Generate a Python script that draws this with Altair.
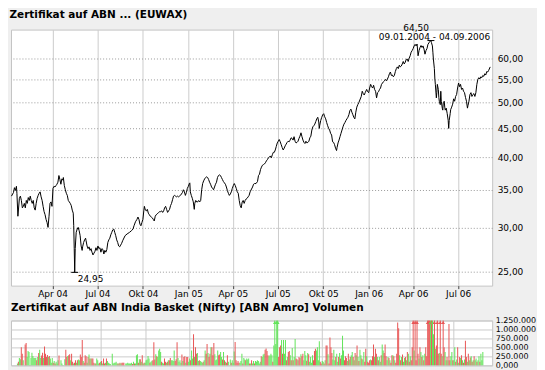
import altair as alt
import pandas as pd

TITLE_MAIN = "Zertifikat auf ABN ... (EUWAX)"
TITLE_VOL = "Zertifikat auf ABN India Basket (Nifty) [ABN Amro] Volumen"

# (days after 2004-01-01, closing price)
price_points = [
    (8, 34.1), (12, 34.6), (14, 35.3), (16, 34.9), (18, 35.5), (19, 34.5), (21, 31.4), (24, 33.8),
    (26, 34.1), (28, 33.5), (30, 32.5), (32, 32.7), (34, 33.1), (36, 32.5), (38, 33.5), (40, 33.1),
    (42, 33.9), (44, 33.5), (46, 34.1), (48, 33.5), (50, 33.1), (52, 33.5), (54, 32.5), (56, 32.2),
    (58, 33.1), (60, 33.8), (62, 34.2), (64, 34.5), (66, 34.7), (68, 34.0), (70, 33.5), (72, 32.7),
    (74, 32.0), (76, 31.6), (78, 31.0), (80, 30.6), (82, 30.0), (84, 31.4), (86, 33.1), (88, 33.3),
    (90, 32.7), (92, 35.2), (94, 35.5), (96, 35.4), (98, 35.6), (100, 35.8), (102, 36.1), (104, 37.1),
    (106, 36.5), (108, 35.8), (110, 36.6), (112, 36.4), (113, 36.8), (115, 35.6), (117, 35.0), (119, 34.5),
    (121, 34.2), (123, 33.5), (125, 33.3), (127, 33.1), (129, 32.8), (131, 32.2), (133, 31.8), (134, 30.2),
    (135, 27.5), (136, 24.95), (137, 27.5), (139, 29.4), (141, 29.8), (143, 30.0), (145, 29.6), (147, 29.0),
    (149, 27.8), (151, 27.3), (152, 27.7), (154, 28.2), (156, 28.5), (158, 28.7), (159, 28.4), (161, 27.8),
    (163, 27.5), (165, 27.7), (167, 27.3), (169, 27.5), (171, 27.1), (173, 26.8), (175, 27.0), (177, 27.2),
    (179, 27.6), (181, 27.3), (183, 27.8), (185, 27.5), (187, 27.6), (189, 27.1), (191, 27.5), (193, 27.4),
    (195, 26.9), (197, 27.3), (199, 27.1), (201, 27.4), (203, 28.2), (205, 28.5), (207, 28.7), (209, 29.1),
    (211, 29.4), (213, 29.7), (215, 29.8), (217, 29.4), (219, 29.0), (221, 28.5), (223, 28.2), (225, 27.8),
    (227, 27.7), (229, 27.9), (231, 28.1), (233, 28.4), (238, 29.0), (242, 29.2), (247, 29.4), (251, 29.6),
    (254, 29.8), (256, 30.2), (259, 30.7), (262, 31.0), (264, 31.3), (266, 31.0), (268, 30.4), (270, 30.2),
    (272, 30.6), (274, 31.0), (276, 32.2), (277, 32.7), (279, 32.2), (281, 32.1), (283, 32.3), (285, 31.8),
    (287, 31.6), (289, 31.4), (291, 31.3), (293, 31.2), (295, 31.0), (297, 30.8), (299, 31.4), (301, 31.6),
    (303, 31.7), (306, 31.9), (308, 32.0), (310, 32.0), (312, 32.1), (314, 31.9), (316, 32.1), (318, 32.5),
    (320, 32.7), (322, 32.3), (324, 31.9), (326, 32.1), (328, 32.3), (330, 32.8), (332, 33.1), (334, 33.6),
    (336, 34.1), (338, 34.2), (340, 34.1), (342, 34.0), (344, 34.1), (346, 34.0), (348, 34.1), (350, 34.2),
    (352, 34.4), (354, 34.6), (356, 35.0), (358, 34.7), (360, 34.2), (362, 34.6), (364, 35.2), (366, 35.5),
    (368, 35.9), (369, 36.0), (370, 34.7), (372, 34.2), (374, 33.8), (376, 33.3), (378, 32.3), (379, 33.1),
    (381, 33.5), (383, 33.3), (385, 33.3), (387, 33.5), (389, 33.3), (391, 33.5), (393, 35.0), (395, 35.9),
    (397, 36.3), (399, 36.6), (401, 36.8), (403, 36.9), (405, 36.8), (407, 36.5), (409, 36.1), (411, 35.8),
    (413, 35.4), (415, 35.2), (417, 35.0), (419, 35.4), (421, 35.8), (423, 36.1), (425, 36.8), (427, 37.1),
    (429, 37.2), (431, 37.1), (433, 36.8), (435, 36.5), (437, 36.2), (439, 36.0), (441, 35.8), (443, 35.4),
    (445, 34.9), (447, 34.5), (449, 34.2), (451, 34.4), (453, 34.7), (455, 35.2), (457, 35.6), (459, 35.9),
    (461, 35.6), (463, 35.2), (465, 34.7), (467, 34.5), (469, 33.5), (471, 32.8), (473, 32.5), (475, 33.3),
    (477, 33.5), (479, 33.1), (481, 33.5), (483, 33.7), (485, 33.8), (487, 34.0), (489, 34.2), (491, 34.7),
    (496, 35.4), (498, 35.8), (500, 35.9), (503, 35.9), (506, 36.2), (508, 37.1), (510, 37.3), (512, 38.0),
    (514, 38.4), (516, 38.7), (518, 38.8), (520, 38.9), (522, 39.1), (524, 39.4), (526, 39.6), (528, 39.9),
    (530, 40.0), (532, 40.2), (534, 39.9), (536, 40.4), (538, 40.8), (540, 40.8), (542, 41.2), (544, 41.8),
    (546, 42.4), (548, 42.7), (550, 43.0), (552, 42.6), (554, 42.1), (556, 41.6), (558, 41.2), (560, 41.5),
    (562, 41.9), (564, 42.2), (566, 42.5), (568, 42.7), (570, 42.6), (572, 42.9), (574, 43.3), (576, 43.2),
    (578, 42.9), (580, 43.5), (582, 42.7), (584, 42.4), (586, 42.5), (588, 42.7), (590, 43.2), (592, 43.6),
    (594, 44.2), (596, 43.5), (598, 42.9), (600, 42.5), (602, 42.3), (604, 42.7), (606, 42.4), (608, 42.5),
    (610, 42.7), (612, 43.3), (614, 43.6), (616, 44.7), (618, 45.3), (620, 45.5), (622, 45.8), (624, 46.3),
    (626, 46.8), (628, 47.1), (630, 46.2), (631, 45.0), (632, 45.6), (634, 46.5), (636, 47.1), (638, 47.6),
    (640, 47.8), (642, 47.2), (644, 46.8), (646, 46.1), (648, 45.5), (650, 45.0), (652, 44.7), (654, 44.1),
    (656, 43.8), (658, 42.6), (660, 42.5), (662, 42.1), (664, 41.5), (666, 41.1), (667, 41.6), (669, 42.4),
    (671, 42.9), (673, 43.5), (675, 44.1), (677, 44.7), (679, 45.3), (681, 45.8), (683, 46.1), (685, 46.5),
    (687, 46.8), (689, 47.1), (691, 47.6), (693, 48.4), (695, 48.7), (697, 48.1), (699, 47.6), (701, 47.1),
    (703, 46.8), (705, 48.1), (707, 49.1), (709, 49.6), (711, 50.0), (716, 51.3), (718, 52.4), (720, 51.9),
    (722, 51.6), (724, 52.1), (727, 52.8), (729, 52.3), (731, 52.1), (733, 53.1), (735, 53.9), (737, 53.4),
    (739, 53.1), (741, 53.7), (743, 52.8), (745, 52.4), (747, 51.0), (749, 52.1), (751, 52.3), (753, 52.8),
    (755, 53.1), (757, 53.9), (759, 54.2), (761, 54.5), (763, 54.7), (765, 55.0), (767, 54.7), (769, 55.1),
    (771, 55.6), (773, 56.3), (775, 56.7), (777, 55.9), (779, 56.0), (781, 55.6), (783, 55.9), (785, 56.8),
    (787, 57.5), (789, 57.9), (791, 57.5), (793, 58.3), (795, 57.9), (797, 58.1), (799, 58.6), (801, 59.2),
    (803, 58.6), (805, 59.0), (807, 59.7), (809, 59.8), (811, 59.2), (813, 60.0), (815, 60.6), (817, 61.5),
    (819, 61.9), (821, 62.4), (823, 63.1), (825, 63.5), (827, 63.1), (829, 63.6), (831, 60.6), (833, 61.9),
    (835, 62.7), (837, 63.2), (839, 62.7), (841, 63.1), (843, 62.3), (845, 61.0), (847, 61.9), (849, 62.4),
    (851, 63.5), (853, 63.9), (855, 64.3), (857, 64.5), (858, 64.0), (860, 63.1), (861, 61.5), (862, 59.8),
    (864, 57.5), (865, 55.1), (866, 53.9), (868, 51.0), (869, 52.1), (870, 53.9), (872, 52.8), (873, 51.1),
    (874, 50.3), (876, 49.6), (877, 52.4), (878, 50.3), (880, 48.9), (881, 48.5), (882, 50.0), (884, 50.3),
    (885, 49.1), (886, 48.5), (888, 48.9), (890, 47.8), (892, 46.5), (893, 45.0), (894, 46.5), (896, 47.8),
    (897, 48.6), (899, 49.1), (901, 49.7), (903, 50.8), (905, 50.3), (907, 51.3), (909, 51.7), (911, 53.1),
    (913, 54.2), (915, 53.4), (917, 53.9), (919, 52.8), (921, 53.1), (923, 52.4), (925, 52.1), (927, 51.1),
    (929, 50.3), (931, 48.9), (932, 49.4), (934, 50.3), (936, 51.7), (938, 52.1), (940, 51.3), (942, 51.7),
    (944, 51.9), (946, 51.3), (948, 52.1), (950, 53.9), (952, 55.0), (954, 55.4), (956, 55.1), (958, 55.6),
    (960, 55.4), (962, 55.9), (964, 55.7), (966, 56.3), (968, 56.0), (970, 56.8), (972, 56.7), (974, 57.1),
    (977, 57.9),
]

# volume in thousands, one bar every second day starting 2004-01-11
vol_start = "2004-01-11"
vol_k = [
    54, 100, 208, 172, 507, 326, 145, 0, 580, 625, 235, 399,
    371, 9, 208, 353, 263, 208, 208, 208, 145, 235,
    344, 435, 208, 272, 353, 208, 525, 326, 235, 290,
    235, 263, 190, 72, 208, 72, 118, 54, 100, 54,
    145, 272, 0, 145, 54, 9, 0, 172, 435, 235,
    263, 281, 308, 145, 326, 100, 54, 72, 145, 72,
    145, 163, 145, 299, 235, 706, 118, 72, 281, 254,
    72, 235, 299, 190, 190, 190, 190, 72, 54, 54,
    190, 145, 54, 72, 100, 118, 54, 190, 54, 72,
    190, 118, 72, 54, 36, 0, 326, 54, 72, 72,
    100, 54, 54, 54, 72, 54, 72, 72, 72, 0,
    54, 54, 72, 54, 54, 54, 72, 36, 100, 54,
    54, 281, 308, 72, 172, 172, 100, 281, 54, 72,
    72, 145, 163, 263, 190, 72, 100, 127, 145, 643,
    163, 308, 254, 235, 417, 462, 371, 100, 72, 54,
    190, 100, 72, 100, 145, 145, 208, 145, 145, 118,
    417, 118, 172, 643, 208, 100, 145, 72, 299, 118,
    235, 254, 72, 235, 235, 100, 190, 145, 417, 190,
    869, 235, 507, 326, 344, 118, 145, 118, 100, 72,
    100, 145, 417, 326, 598, 344, 235, 326, 507, 507,
    281, 625, 308, 145, 163, 417, 281, 299, 371, 235,
    163, 371, 145, 100, 72, 281, 100, 0, 163, 72,
    145, 72, 389, 652, 145, 72, 118, 72, 72, 118,
    326, 54, 208, 163, 145, 190, 163, 190, 54, 54,
    145, 54, 118, 54, 118, 100, 145, 118, 54, 100,
    254, 235, 299, 326, 435, 471, 399, 281, 254, 281, 326,
    281, 100, 552, 1400, 598, 1400, 1400, 235, 507,
    552, 706, 326, 706, 326, 706, 145, 235, 371, 399,
    281, 145, 480, 145, 235, 733, 190, 172, 145, 235,
    208, 308, 254, 326, 145, 399, 281, 127, 344, 308,
    100, 235, 72, 281, 145, 399, 462, 417, 507, 145,
    670, 100, 54, 118, 100, 54, 145, 552, 552, 308,
    54, 779, 507, 344, 163, 435, 145, 235, 326, 100,
    235, 344, 190, 281, 824, 417, 145, 254, 208, 118,
    326, 163, 235, 281, 371, 235, 145, 344, 281, 552,
    235, 118, 435, 281, 190, 163, 371, 100, 462, 254,
    100, 72, 145, 163, 145, 254, 580, 235, 462, 326,
    235, 145, 235, 100, 281, 580, 417, 344, 580, 254,
    145, 235, 208, 145, 72, 281, 281, 254, 145, 72,
    326, 1196, 1033, 281, 145, 235, 299, 100, 208, 235,
    145, 371, 326, 100, 254, 145, 507, 1400, 417, 1400,
    145, 1400, 326, 190, 507, 371, 235, 281, 145, 326,
    507, 254, 1400, 1400, 1400, 1400, 1400, 1400, 869, 1400,
    462, 552, 1400, 326, 344, 1400, 326, 254, 1400, 507,
    371, 145, 235, 145, 1150, 145, 254, 371, 145, 145,
    507, 100, 163, 507, 72, 235, 208, 281, 145, 72,
    163, 688, 235, 100, 326, 145, 217, 254, 100, 145,
    254, 145, 190, 100, 145, 254, 100, 326, 145, 371,
]
# G = up day (green), R = down day (red)
vol_dir = (
    "GRGGRRGGRRGG" "GGGGGGGGRG" "RGGRRGRRRR" "GRGGGRGRGG" "GRGGGGGGRR"
    "GRRGRRGRRG" "RGGRRRGRRR" "GRGRGRRRGR" "GGGRGRGRRG" "RGGGGGGGGG"
    "GGRGRGRRRG" "GGGGGGGRGR" "GGGRGRGRGR" "GGGGGRGGRR" "RGRGGGGRGG"
    "RRGRGRRGGG" "GRRRGGGGRG" "RRGRRGGRGG" "RGRRGGRGGG" "RGGRRGRRGR"
    "RRGGGGRRGG" "RGRGRRGGGR" "GGGRRRRRGG" "GRGGRGGGRG" "RGGRGGGGGG"
    "RGGGRRRRGGG" "GRGGGGGRR"
    "RGRGGGRGRR" "GRGRGGRRGR" "RGRRGGGRGR" "GGGGRRRGGG" "GRRGGRGRRG"
    "RRRRGGGRGG" "RGRGGGRRRG" "RGRGGRGRGR" "GRGGRGGRRG" "RRRGRRRGRR"
    "GRGGRGGRRR" "GGRGRRGRGR" "RRRGRGRGGR" "GRGRGRRRGR" "RRRGRGRGRG"
    "RRRRRGRGGR" "GRRRGRRGRR" "GGRGRRGGRG" "GRGRGRGRGR" "GRRGRGRGRG"
    "RGGRGGRGGG"
)

y_ticks = [25, 30, 35, 40, 45, 50, 55, 60]
vol_ticks = [0, 250000, 500000, 750000, 1000000, 1250000]
quarter_ticks = [(2004, 4), (2004, 7), (2004, 10), (2005, 1), (2005, 4), (2005, 7),
                 (2005, 10), (2006, 1), (2006, 4), (2006, 7)]
month_names = ["Jan", "Feb", "Mär", "Apr", "Mai", "Jun", "Jul", "Aug", "Sep", "Okt", "Nov", "Dez"]

GREEN = "#62e45a"
RED = "#e85656"
BG = "#efefef"
FONT = "DejaVu Sans"

base = pd.Timestamp("2004-01-01")
price_df = pd.DataFrame({
    "date": [(base + pd.Timedelta(days=d)).strftime("%Y-%m-%d") for d, _ in price_points],
    "price": [v for _, v in price_points],
})

n = min(len(vol_k), len(vol_dir))
vol_dates = pd.date_range(vol_start, periods=n, freq="2D")
vol_df = pd.DataFrame({
    "date": vol_dates.strftime("%Y-%m-%d"),
    "vol": [k * 1000 for k in vol_k[:n]],
    "dir": list(vol_dir[:n]),
})


def de_num(v):
    return f"{v:.2f}".replace(".", ",")


imin = price_df["price"].idxmin()
imax = price_df["price"].idxmax()
min_df = pd.DataFrame({"date": [price_df.date[imin]], "price": [price_df.price[imin]],
                       "label": [de_num(price_df.price[imin])]})
max_df = pd.DataFrame({"date": [price_df.date[imax]], "price": [price_df.price[imax]],
                       "label": [de_num(price_df.price[imax])]})
ext_df = pd.concat([min_df, max_df], ignore_index=True)
d0 = pd.Timestamp(price_df.date.iloc[0])
d1 = pd.Timestamp(price_df.date.iloc[-1])
range_df = pd.DataFrame({"date": [price_df.date.iloc[-1]], "price": [price_df.price[imax]],
                         "label": [f"{d0:%d.%m.%Y} - {d1:%d.%m.%Y}"]})

x_scale = alt.Scale(type="utc", domain=[alt.DateTime(year=2004, month=1, date=8, utc=True),
                                        alt.DateTime(year=2006, month=9, date=8, utc=True)])
tick_vals = [alt.DateTime(year=y, month=m, date=1, utc=True) for y, m in quarter_ticks]
month_arr = "[" + ",".join(f"'{m}'" for m in month_names) + "]"
x_label_expr = month_arr + "[utcmonth(datum.value)] + ' ' + utcFormat(datum.value, '%y')"

x_axis_main = alt.Axis(values=tick_vals, labelExpr=x_label_expr, grid=True, gridColor="#cccccc",
                       gridWidth=1, domain=False, tickColor="#444444", tickSize=3, labelPadding=1,
                       labelFontSize=9, title=None, labelFont=FONT, labelColor="black",
                       labelOverlap=False)
y_axis_main = alt.Axis(orient="right", values=y_ticks,
                       labelExpr="replace(format(datum.value, '.2f'), '.', ',')",
                       grid=True, gridDash=[1, 2], gridColor="#9a9a9a", ticks=False, domain=False,
                       labelPadding=5, labelFontSize=9, title=None, labelFont=FONT, labelColor="black",
                       labelOverlap=False)

W = 483
H_MAIN = 257
H_VOL = 45

line = alt.Chart(price_df).mark_line(color="black", strokeWidth=1).encode(
    x=alt.X("date:T", scale=x_scale, axis=x_axis_main),
    y=alt.Y("price:Q", scale=alt.Scale(type="log", domain=[23.63, 67.46], nice=False, zero=False),
            axis=y_axis_main),
)
ext_marks = alt.Chart(ext_df).mark_point(shape="M-1,0L1,0", size=49, color="black", filled=False,
                                         strokeWidth=1, opacity=1).encode(x="date:T", y="price:Q")
min_text = alt.Chart(min_df).mark_text(align="left", baseline="top", dx=3, dy=3, fontSize=9,
                                       font=FONT, color="black").encode(x="date:T", y="price:Q", text="label:N")
max_text = alt.Chart(max_df).mark_text(align="right", baseline="bottom", dx=-2, dy=-8, fontSize=9,
                                       font=FONT, color="black").encode(x="date:T", y="price:Q", text="label:N")
range_text = alt.Chart(range_df).mark_text(align="right", baseline="middle", dy=-4, fontSize=9,
                                           font=FONT, color="black").encode(x="date:T", y="price:Q", text="label:N")

main = alt.layer(line, ext_marks, min_text, max_text, range_text).properties(
    width=W, height=H_MAIN,
    title=alt.TitleParams(TITLE_MAIN, anchor="start", font=FONT, fontSize=10.5, fontWeight="bold",
                          color="black", offset=3),
)

x_axis_vol = alt.Axis(values=tick_vals, labels=False, ticks=False, domain=False, grid=True,
                      gridColor="#cccccc", gridWidth=1, title=None)
y_axis_vol = alt.Axis(orient="right", values=vol_ticks, tickCount=6,
                      labelExpr="datum.value == 0 ? '0,000' : replace(format(datum.value, ','), regexp(',', 'g'), '.')",
                      grid=True, gridColor="#cccccc", gridWidth=1, ticks=False, domain=False,
                      labelPadding=3, labelFontSize=8, title=None, labelFont=FONT, labelColor="black",
                      labelOverlap=False, labelBound=False, labelSeparation=0)

vol_base = alt.Chart(vol_df).encode(
    x=alt.X("date:T", scale=x_scale, axis=x_axis_vol),
    y=alt.Y("vol:Q", scale=alt.Scale(domain=[0, 1250000], clamp=True, nice=False), axis=y_axis_vol),
    color=alt.Color("dir:N", scale=alt.Scale(domain=["G", "R"], range=[GREEN, RED]), legend=None),
)
bars = vol_base.mark_bar(size=1)
caps = vol_base.transform_filter("datum.vol > 1250000").mark_point(
    shape="triangle-up", filled=True, size=14, yOffset=2, opacity=1)

vol = alt.layer(bars, caps).properties(
    width=W, height=H_VOL,
    title=alt.TitleParams(TITLE_VOL, anchor="start", font=FONT, fontSize=10.5, fontWeight="bold",
                          color="black", offset=3),
)

chart = alt.vconcat(main, vol, spacing=3).properties(
    background=BG, padding={"left": 0, "top": 0, "right": 0, "bottom": 0},
).configure_view(stroke="#c4c4c4", fill="white").configure_axis(labelOverlap=False)

chart.save("out.html", embed_options={"renderer": "svg", "actions": False})
